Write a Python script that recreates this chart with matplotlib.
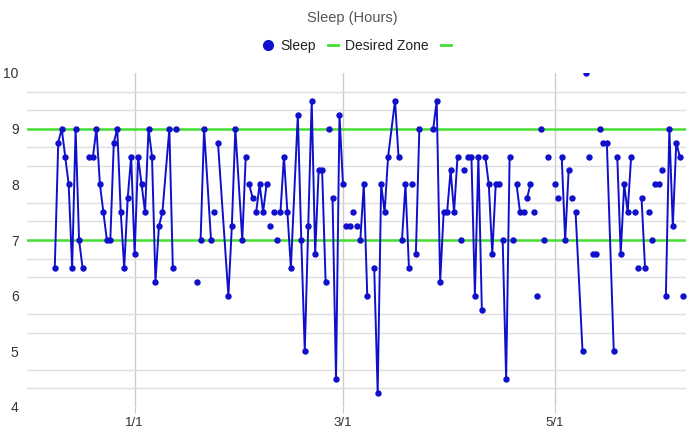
import numpy as np
import pandas as pd
import matplotlib
matplotlib.use("Agg")
import matplotlib.pyplot as plt
from matplotlib.lines import Line2D

plt.rcParams["font.family"] = ["Liberation Sans", "DejaVu Sans"]

start = pd.Timestamp("2024-01-01")

# day offsets from 1/1; the x.5 rows are blank rows (they break the line)
day = [
    -23, -22, -21, -20, -19, -18, -17, -16, -15, -14,
    -13, -12, -11, -10, -9, -8, -7, -6, -5, -4, -3, -2, -1, 0, 1, 2, 3, 4, 5, 6, 7, 8, 10, 11, 11.5,
    12, 12.5,
    18, 18.5,
    19, 20, 22, 22.5,
    23, 23.5,
    24, 27, 28, 29, 31, 32, 32.5,
    33, 34, 34.5,
    35, 36, 37, 38, 38.5,
    39, 39.5,
    40, 40.5,
    41, 41.5,
    42, 43, 44, 45, 47, 48, 49, 50, 51, 52, 53, 54, 55, 55.5,
    56, 56.5,
    57, 58, 59, 60, 60.5,
    61, 62, 62.5,
    63, 63.5,
    64, 64.5,
    65, 66, 67, 68,
    69, 70, 71, 72, 73, 75, 76, 76.5,
    77, 78, 79, 79.5,
    80, 80.5,
    81, 82, 84,
    86, 87, 88, 89, 90, 91, 92, 93, 93.5,
    94, 94.5,
    95, 95.5,
    96, 97, 98, 99, 100, 100.5,
    101, 102, 103, 104, 105, 105.5,
    106, 107, 108, 108.5,
    109, 109.5,
    110, 111, 112, 112.5,
    113, 114, 114.5,
    115, 115.5,
    116, 116.5,
    117, 117.5,
    118, 118.5,
    119, 120,
    121, 121.5,
    122, 122.5,
    123, 124, 125, 125.5,
    126, 126.5,
    127, 129, 129.5,
    130, 130.5,
    131, 131.5,
    132, 133, 133.5,
    134, 134.5,
    135, 136, 138, 138.5,
    139, 140, 141, 142, 143, 143.5,
    144, 144.5,
    145, 145.5,
    146, 147, 147.5,
    148, 148.5,
    149, 149.5,
    150, 151, 151.5,
    152, 152.5,
    153, 154, 155, 156, 157, 157.5,
    158,
]

hours = [
    6.5, 8.75, 9, 8.5, 8, 6.5, 9, 7, 6.5, None,
    8.5, 8.5, 9, 8, 7.5, 7, 7, 8.75, 9, 7.5, 6.5, 7.75, 8.5, 6.75, 8.5, 8, 7.5, 9, 8.5, 6.25, 7.25, 7.5, 9, 6.5, None,
    9, None,
    6.25, None,
    7, 9, 7, None,
    7.5, None,
    8.75, 6, 7.25, 9, 7, 8.5, None,
    8, 7.75, None,
    7.5, 8, 7.5, 8, None,
    7.25, None,
    7.5, None,
    7, None,
    7.5, 8.5, 7.5, 6.5, 9.25, 7, 5, 7.25, 9.5, 6.75, 8.25, 8.25, 6.25, None,
    9, None,
    7.75, 4.5, 9.25, 8, None,
    7.25, 7.25, None,
    7.5, None,
    7.25, None,
    7, 8, 6, None,
    6.5, 4.25, 8, 7.5, 8.5, 9.5, 8.5, None,
    7, 8, 6.5, None,
    8, None,
    6.75, 9, None,
    9, 9.5, 6.25, 7.5, 7.5, 8.25, 7.5, 8.5, None,
    7, None,
    8.25, None,
    8.5, 8.5, 6, 8.5, 5.75, None,
    8.5, 8, 6.75, 8, 8, None,
    7, 4.5, 8.5, None,
    7, None,
    8, 7.5, 7.5, None,
    7.75, 8, None,
    7.5, None,
    6, None,
    9, None,
    7, None,
    8.5, None,
    8, None,
    7.75, None,
    8.5, 7, 8.25, None,
    7.75, None,
    7.5, 5, None,
    10, None,
    8.5, None,
    6.75, 6.75, None,
    9, None,
    8.75, 8.75, 5, None,
    8.5, 6.75, 8, 7.5, 8.5, None,
    7.5, None,
    6.5, None,
    7.75, 6.5, None,
    7.5, None,
    7, None,
    8, 8, None,
    8.25, None,
    6, 9, 7.25, 8.75, 8.5, None,
    6,
]

zone = [7, 9]
tick_dates = ["2024-01-01", "2024-03-01", "2024-05-01"]
tick_labels = ["1/1", "3/1", "5/1"]

blue = "#1010cc"
green = "#44dd33"

x = start + pd.to_timedelta(day, unit="D")
y = np.array([np.nan if v is None else v for v in hours], dtype=float)

fig = plt.figure(figsize=(7, 4.45), dpi=100)
ax = fig.add_axes([27 / 700, 1 - 407 / 445, 659 / 700, 334 / 445])

for z in zone:
    ax.axhline(z, color=green, lw=1.8, zorder=2)
ax.plot(x, y, color=blue, lw=1.4, marker="o", ms=3.6, zorder=3)

ax.set_xlim(start - pd.Timedelta(days=31), start + pd.Timedelta(days=158.8))
ax.set_ylim(4, 10)

ax.set_yticks(range(4, 11))
minor = [v for v in np.arange(4, 10, 1 / 3) if abs(v - round(v)) > 0.01]
ax.set_yticks(minor, minor=True)
ax.grid(axis="y", which="minor", color="#dedede", lw=1)
ax.tick_params(axis="y", which="both", length=0, pad=6, labelsize=10, labelcolor="#333333")

ax.set_xticks(pd.to_datetime(tick_dates))
ax.set_xticklabels(tick_labels)
ax.grid(axis="x", which="major", color="#cccccc", lw=1)
ax.tick_params(axis="x", length=4, color="#cccccc", pad=3, labelsize=9.5, labelcolor="#333333")

for s in ax.spines.values():
    s.set_visible(False)

fig.text(0.503, 0.96, "Sleep (Hours)", ha="center", va="center", fontsize=10.5, color="#555555")

handles = [
    Line2D([], [], color=blue, marker="o", ms=7, lw=0),
    Line2D([], [], color=green, lw=2),
    Line2D([], [], color=green, lw=2),
]
fig.legend(handles, ["Sleep", "Desired Zone", ""], loc="center", bbox_to_anchor=(0.515, 0.897),
           ncol=3, frameon=False, fontsize=10, handlelength=0.7, handletextpad=0.5,
           columnspacing=0.9, labelcolor="#222222")

fig.savefig("out.png", dpi=100, facecolor="white")
